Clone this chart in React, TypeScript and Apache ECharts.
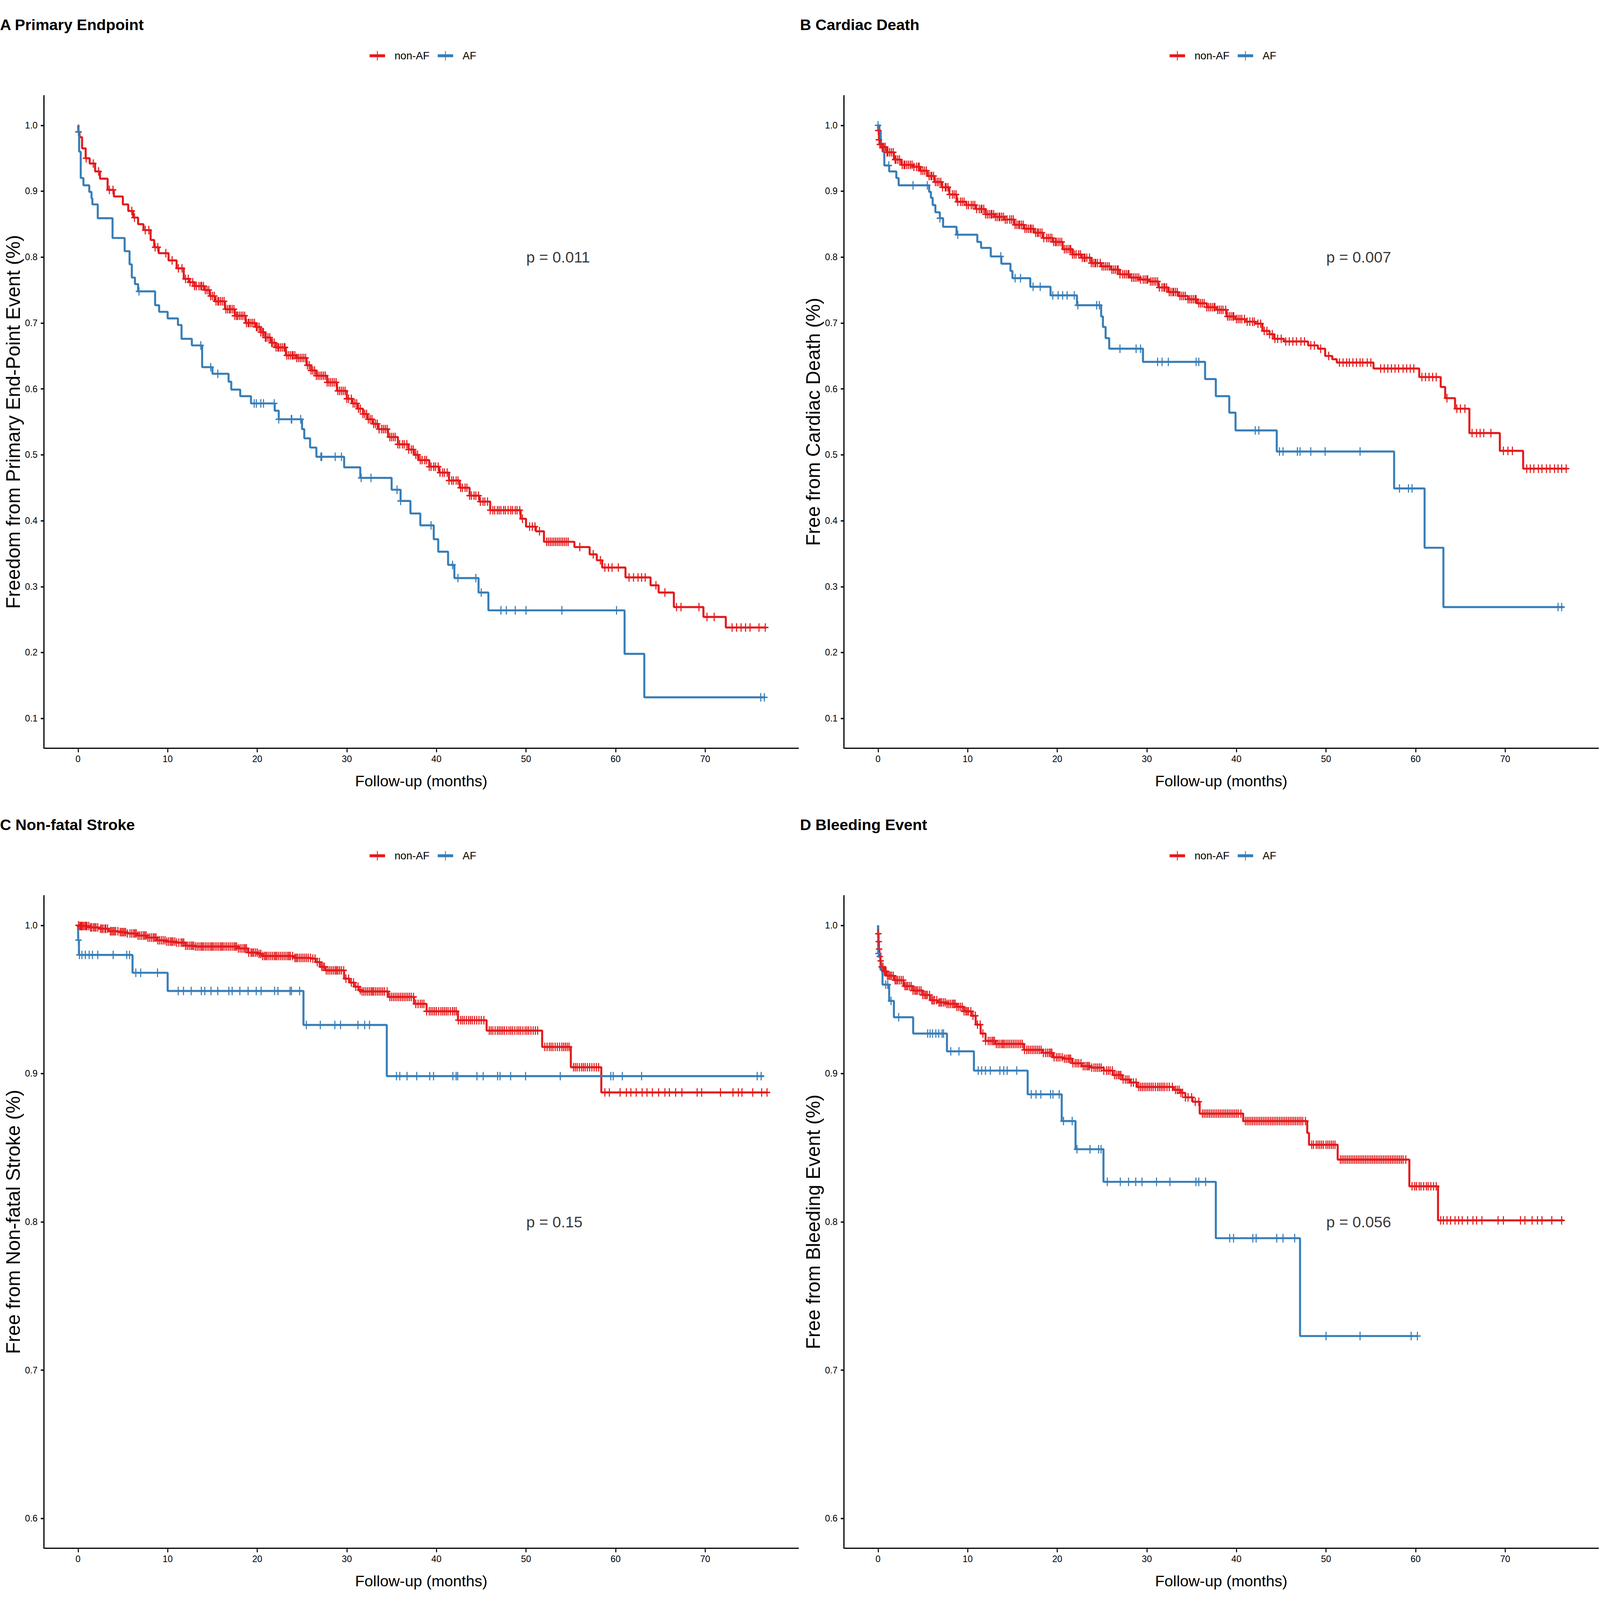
import React, { useEffect, useRef } from "react";
import * as echarts from "echarts";

const RED = "#E41A1C";
const BLUE = "#377EB8";
const FONT = "Liberation Sans, Arial, Helvetica, sans-serif";

// ---------- tick labels ----------
const xTicks = [0, 10, 20, 30, 40, 50, 60, 70];
const yTicksAB = [0.1, 0.2, 0.3, 0.4, 0.5, 0.6, 0.7, 0.8, 0.9, 1.0];
const yTicksCD = [0.6, 0.7, 0.8, 0.9, 1.0];
const legendNames = ["non-AF", "AF"];

// ---------- A: Primary Endpoint ----------
const A_nonAF_steps = [
  [0, 1.0], [0.05, 0.99], [0.17, 0.982], [0.45, 0.965], [0.85, 0.95], [1.3, 0.942], [1.9, 0.93],
  [2.45, 0.919], [3.3, 0.902], [4.0, 0.892], [5.0, 0.88], [5.6, 0.87], [6.15, 0.86], [6.7, 0.85],
  [7.3, 0.841], [8.1, 0.826], [8.5, 0.815], [9.0, 0.806], [10.1, 0.795], [11.0, 0.783], [11.8, 0.767],
  [12.4, 0.762], [13.0, 0.756], [14.1, 0.75], [14.7, 0.741], [15.25, 0.733], [16.4, 0.721], [17.5, 0.711],
  [18.7, 0.7], [19.8, 0.694], [20.4, 0.686], [20.9, 0.678], [21.5, 0.67], [22.1, 0.663], [23.2, 0.651],
  [24.4, 0.647], [25.5, 0.636], [26.0, 0.628], [26.6, 0.62], [27.8, 0.61], [28.9, 0.597], [30.0, 0.585],
  [30.6, 0.578], [31.2, 0.57], [31.8, 0.562], [32.3, 0.554], [32.9, 0.547], [33.5, 0.539], [34.6, 0.527],
  [35.7, 0.516], [36.9, 0.508], [37.5, 0.5], [38.0, 0.492], [39.2, 0.482], [40.3, 0.473], [41.4, 0.461],
  [42.6, 0.45], [43.7, 0.438], [44.8, 0.429], [46.0, 0.416], [49.4, 0.403], [50.0, 0.391], [51.1, 0.384],
  [52.0, 0.368], [55.4, 0.36], [57.1, 0.349], [57.9, 0.34], [58.5, 0.329], [61.1, 0.314], [63.9, 0.302],
  [64.8, 0.291], [66.5, 0.269], [69.8, 0.254], [72.3, 0.238], [76.8, 0.238],
];
const A_nonAF_cens = [
  0.05, 0.9, 1.7, 2.3, 3.5, 3.9, 6.0, 6.3, 7.5, 7.9, 8.6, 8.9, 9.8, 10.5, 11.2, 11.6, 12.0, 12.3, 12.5,
  12.8, 13.0, 13.2, 13.5, 13.7, 13.8, 14.0, 14.2, 14.4, 14.6, 14.8, 15.0, 15.2, 15.4, 15.6, 15.7, 15.9,
  16.1, 16.3, 16.5, 16.7, 16.9, 17.0, 17.2, 17.4, 17.5, 17.7, 17.8, 18.0, 18.2, 18.4, 18.6, 18.8, 19.0,
  19.1, 19.3, 19.5, 19.7, 19.9, 20.0, 20.2, 20.4, 20.6, 20.7, 20.9, 21.0, 21.2, 21.4, 21.6, 21.7, 21.9,
  22.1, 22.3, 22.4, 22.6, 22.8, 23.0, 23.1, 23.3, 23.5, 23.7, 23.9, 24.0, 24.2, 24.4, 24.6, 24.8, 25.0,
  25.2, 25.4, 25.6, 25.8, 26.0, 26.2, 26.4, 26.6, 26.8, 27.0, 27.2, 27.4, 27.6, 27.8, 28.0, 28.2, 28.4,
  28.6, 28.8, 29.0, 29.2, 29.4, 29.6, 29.8, 30.0, 30.2, 30.5, 30.7, 30.9, 31.1, 31.3, 31.5, 31.8, 32.0,
  32.2, 32.4, 32.6, 32.8, 33.0, 33.2, 33.4, 33.6, 33.9, 34.1, 34.3, 34.5, 34.8, 35.0, 35.2, 35.4, 35.7,
  35.9, 36.2, 36.4, 36.7, 36.9, 37.2, 37.4, 37.7, 37.9, 38.2, 38.4, 38.7, 38.9, 39.2, 39.4, 39.7, 39.9,
  40.2, 40.4, 40.7, 40.9, 41.2, 41.4, 41.7, 41.9, 42.2, 42.4, 42.7, 42.9, 43.2, 43.4, 43.7, 43.9, 44.2,
  44.4, 44.7, 44.9, 45.2, 45.4, 45.7, 46.0, 46.3, 46.5, 46.8, 47.0, 47.2, 47.5, 47.7, 48.0, 48.3, 48.5,
  48.8, 49.0, 49.3, 49.6, 50.4, 50.7, 51.0, 51.5, 52.3, 52.5, 52.7, 52.9, 53.1, 53.3, 53.5, 53.7, 53.9,
  54.1, 54.3, 54.5, 54.7, 56.0, 57.5, 58.3, 58.8, 59.2, 59.6, 60.3, 61.5, 62.0, 62.5, 62.9, 63.3, 64.5,
  65.5, 66.8, 67.3, 69.3, 70.2, 71.0, 73.0, 73.5, 74.0, 74.5, 75.0, 76.0, 76.7,
];
const A_AF_steps = [
  [0, 1.0], [0.03, 0.99], [0.12, 0.96], [0.3, 0.92], [0.6, 0.909], [1.25, 0.899], [1.5, 0.889],
  [1.6, 0.88], [2.2, 0.859], [3.85, 0.829], [5.2, 0.809], [5.75, 0.789], [6.0, 0.769], [6.35, 0.759],
  [6.7, 0.748], [8.6, 0.727], [9.05, 0.717], [10.0, 0.707], [11.15, 0.697], [11.55, 0.676], [12.7, 0.666],
  [13.85, 0.633], [15.0, 0.623], [16.8, 0.611], [17.1, 0.599], [18.1, 0.589], [19.3, 0.578], [21.95, 0.567],
  [22.4, 0.554], [25.0, 0.539], [25.25, 0.525], [25.9, 0.511], [26.6, 0.497], [29.7, 0.481], [31.5, 0.465],
  [35.0, 0.447], [36.0, 0.43], [37.1, 0.411], [38.2, 0.393], [39.7, 0.372], [40.2, 0.353], [41.3, 0.333],
  [42.0, 0.313], [44.7, 0.291], [45.8, 0.264], [61.0, 0.198], [63.2, 0.132], [76.7, 0.132],
];
const A_AF_cens = [
  0.05, 6.8, 13.7, 14.8, 15.6, 19.66, 19.9, 20.4, 20.7, 21.9, 22.4, 23.8, 23.85, 24.85, 27.1, 27.2, 28.7,
  29.4, 31.6, 32.7, 35.6, 36.0, 39.4, 41.8, 42.4, 44.4, 45.0, 47.2, 47.8, 48.8, 50.0, 54.0, 60.1, 76.2, 76.6,
];

// ---------- B: Cardiac Death ----------
const B_nonAF_steps = [
  [0, 1.0], [0.02, 0.992], [0.1, 0.978], [0.2, 0.971], [0.43, 0.967], [0.97, 0.959], [1.77, 0.948],
  [2.6, 0.94], [3.9, 0.937], [4.7, 0.931], [5.5, 0.923], [6.3, 0.914], [7.15, 0.906], [7.96, 0.895],
  [8.76, 0.884], [9.84, 0.879], [10.9, 0.873], [12.0, 0.865], [13.06, 0.861], [14.1, 0.857], [15.2, 0.849],
  [16.3, 0.843], [17.4, 0.837], [18.4, 0.829], [19.5, 0.823], [20.6, 0.812], [21.7, 0.804], [22.7, 0.799],
  [23.8, 0.791], [24.9, 0.786], [26.0, 0.781], [27.0, 0.774], [28.1, 0.769], [29.2, 0.766], [30.3, 0.763],
  [31.3, 0.754], [32.4, 0.747], [33.5, 0.741], [34.6, 0.736], [35.6, 0.73], [36.7, 0.724], [37.8, 0.72],
  [38.9, 0.71], [39.9, 0.706], [41.0, 0.702], [42.1, 0.699], [42.9, 0.688], [43.7, 0.683], [44.2, 0.676],
  [45.3, 0.672], [48.0, 0.666], [49.1, 0.661], [49.9, 0.65], [50.7, 0.645], [51.2, 0.64], [55.3, 0.631],
  [60.4, 0.618], [62.8, 0.603], [63.3, 0.586], [64.4, 0.57], [66.0, 0.533], [69.4, 0.506], [72.0, 0.479],
  [76.9, 0.479],
];
const B_nonAF_cens = [
  0.02, 0.1, 0.2, 0.35, 0.5, 0.65, 0.8, 1.0, 1.1, 1.3, 1.5, 1.7, 1.9, 2.0, 2.2, 2.4, 2.7, 2.9, 3.0, 3.2,
  3.4, 3.6, 3.8, 4.0, 4.3, 4.5, 4.6, 4.8, 5.0, 5.2, 5.4, 5.7, 5.9, 6.0, 6.2, 6.4, 6.6, 6.8, 7.0, 7.2, 7.5,
  7.6, 7.8, 8.0, 8.3, 8.5, 8.7, 8.9, 9.2, 9.4, 9.6, 9.9, 10.1, 10.4, 10.6, 10.8, 11.0, 11.3, 11.5, 11.6,
  11.8, 12.0, 12.2, 12.4, 12.6, 12.7, 12.9, 13.1, 13.3, 13.5, 13.6, 13.8, 14.0, 14.2, 14.4, 14.7, 14.9,
  15.1, 15.3, 15.5, 15.7, 15.8, 16.0, 16.2, 16.4, 16.6, 16.8, 17.0, 17.1, 17.3, 17.6, 17.8, 17.9, 18.1,
  18.3, 18.5, 18.8, 19.0, 19.2, 19.4, 19.6, 19.8, 19.9, 20.1, 20.3, 20.5, 20.8, 21.0, 21.2, 21.4, 21.5,
  21.7, 21.9, 22.1, 22.4, 22.6, 22.8, 23.0, 23.1, 23.3, 23.6, 23.8, 24.0, 24.2, 24.3, 24.5, 24.8, 25.0,
  25.2, 25.4, 25.6, 25.8, 26.1, 26.3, 26.5, 26.7, 26.8, 27.0, 27.3, 27.5, 27.7, 27.9, 28.0, 28.3, 28.5,
  28.7, 28.9, 29.1, 29.3, 29.6, 29.8, 30.0, 30.1, 30.4, 30.6, 30.8, 31.0, 31.2, 31.4, 31.7, 31.9, 32.0,
  32.2, 32.5, 32.7, 32.9, 33.0, 33.2, 33.4, 33.7, 33.9, 34.1, 34.3, 34.6, 34.8, 35.0, 35.2, 35.4, 35.5,
  35.8, 36.0, 36.2, 36.4, 36.7, 36.9, 37.1, 37.3, 37.5, 37.6, 37.9, 38.1, 38.3, 38.5, 38.8, 39.0, 39.2,
  39.4, 39.6, 39.7, 40.0, 40.2, 40.4, 40.6, 40.9, 41.2, 41.5, 41.8, 42.0, 42.4, 42.7, 43.1, 43.4, 43.7,
  44.0, 44.3, 44.6, 45.0, 45.5, 45.9, 46.3, 46.7, 47.2, 47.6, 48.3, 48.7, 49.4, 50.3, 51.5, 51.9, 52.3,
  52.6, 53.0, 53.4, 53.8, 54.1, 54.6, 55.0, 56.1, 56.5, 56.9, 57.3, 57.7, 58.1, 58.6, 59.0, 59.4, 59.8,
  60.7, 61.1, 61.5, 61.9, 62.3, 63.5, 64.6, 65.0, 65.5, 66.3, 66.8, 67.2, 67.6, 68.4, 69.8, 70.3, 70.8,
  72.4, 72.8, 73.2, 73.7, 74.1, 74.6, 75.0, 75.5, 75.9, 76.3, 76.8,
];
const B_AF_steps = [
  [0, 1.0], [0.15, 0.992], [0.3, 0.972], [0.5, 0.96], [0.7, 0.939], [1.24, 0.93], [2.04, 0.92],
  [2.3, 0.909], [5.7, 0.899], [5.9, 0.89], [6.1, 0.879], [6.4, 0.868], [6.9, 0.859], [7.26, 0.846],
  [8.76, 0.834], [11.08, 0.823], [11.5, 0.814], [12.58, 0.801], [13.76, 0.79], [14.78, 0.779], [15.0, 0.768],
  [16.99, 0.755], [19.25, 0.742], [22.2, 0.727], [24.9, 0.71], [25.1, 0.694], [25.4, 0.677], [25.8, 0.661],
  [29.57, 0.641], [36.5, 0.615], [37.7, 0.589], [39.2, 0.564], [39.9, 0.537], [44.5, 0.505], [57.6, 0.449],
  [61.0, 0.359], [63.1, 0.269], [76.5, 0.269],
];
const B_AF_cens = [
  0, 1.2, 3.9, 5.5, 6.9, 8.9, 13.7, 15.3, 15.9, 17.3, 18.1, 19.5, 20.1, 20.6, 21.1, 21.9, 22.3, 24.4,
  24.7, 27.0, 28.8, 29.3, 31.2, 31.7, 32.4, 35.5, 35.8, 42.1, 42.5, 44.8, 45.2, 46.8, 47.1, 48.3, 49.9,
  53.8, 58.2, 59.2, 59.6, 75.9, 76.3,
];

// ---------- C: Non-fatal Stroke ----------
const C_nonAF_steps = [
  [0, 1.0], [0.16, 0.9995], [1.24, 0.9986], [2.3, 0.9977], [3.4, 0.996], [4.5, 0.9954], [5.5, 0.9945],
  [6.6, 0.9931], [7.7, 0.9917], [8.8, 0.9899], [9.8, 0.989], [10.9, 0.9883], [12.0, 0.9862], [13.1, 0.9857],
  [17.9, 0.9844], [19.0, 0.9816], [20.1, 0.9807], [20.6, 0.9793], [24.1, 0.978], [26.0, 0.9775],
  [26.5, 0.9752], [27.0, 0.972], [27.6, 0.9696], [29.7, 0.964], [30.3, 0.9614], [30.8, 0.9586],
  [31.3, 0.9563], [31.6, 0.9554], [34.6, 0.9517], [37.5, 0.947], [38.9, 0.942], [42.4, 0.936],
  [45.6, 0.929], [51.8, 0.918], [55.0, 0.9043], [58.4, 0.8873], [76.9, 0.8873],
];
const C_nonAF_cens = [
  0.05, 0.2, 0.3, 0.4, 0.5, 0.65, 0.8, 0.9, 1.0, 1.2, 1.4, 1.5, 1.7, 1.85, 2.0, 2.2, 2.5, 2.65, 2.8, 3.0,
  3.1, 3.3, 3.6, 3.75, 3.9, 4.05, 4.2, 4.45, 4.7, 4.85, 5.0, 5.15, 5.3, 5.5, 5.8, 6.0, 6.2, 6.35, 6.5,
  6.7, 6.9, 7.1, 7.3, 7.45, 7.6, 7.8, 8.0, 8.2, 8.4, 8.55, 8.7, 8.9, 9.1, 9.3, 9.5, 9.7, 9.9, 10.1, 10.3,
  10.45, 10.6, 10.8, 11.0, 11.25, 11.5, 11.65, 11.8, 12.0, 12.2, 12.4, 12.6, 12.75, 12.9, 13.1, 13.3,
  13.5, 13.7, 13.85, 14.0, 14.2, 14.4, 14.6, 14.8, 14.95, 15.1, 15.3, 15.5, 15.7, 15.9, 16.05, 16.2,
  16.4, 16.6, 16.8, 17.0, 17.2, 17.4, 17.55, 17.7, 17.9, 18.1, 18.3, 18.5, 18.65, 18.8, 19.05, 19.3,
  19.45, 19.6, 19.8, 20.0, 20.2, 20.4, 20.6, 20.8, 20.95, 21.1, 21.3, 21.5, 21.7, 21.9, 22.05, 22.2,
  22.4, 22.6, 22.8, 23.0, 23.2, 23.4, 23.55, 23.7, 23.95, 24.2, 24.35, 24.5, 24.7, 24.9, 25.1, 25.3,
  25.5, 25.7, 25.95, 26.2, 26.45, 26.7, 26.95, 27.2, 27.35, 27.5, 27.7, 27.9, 28.1, 28.3, 28.5, 28.7,
  28.85, 29.0, 29.2, 29.4, 29.65, 29.9, 30.2, 30.5, 30.75, 31.0, 31.25, 31.5, 31.7, 31.9, 32.1, 32.3,
  32.5, 32.7, 32.85, 33.0, 33.2, 33.4, 33.6, 33.8, 34.0, 34.2, 34.5, 34.8, 35.0, 35.2, 35.4, 35.6, 35.8,
  36.0, 36.2, 36.4, 36.6, 36.8, 37.0, 37.2, 37.45, 37.7, 37.95, 38.2, 38.4, 38.6, 38.9, 39.2, 39.4, 39.6,
  39.8, 40.0, 40.25, 40.5, 40.7, 40.9, 41.1, 41.3, 41.55, 41.8, 42.0, 42.2, 42.45, 42.7, 42.9, 43.1,
  43.35, 43.6, 43.8, 44.0, 44.25, 44.5, 44.75, 45.0, 45.3, 45.9, 46.1, 46.3, 46.55, 46.8, 47.0, 47.2,
  47.4, 47.6, 47.85, 48.1, 48.3, 48.5, 48.75, 49.0, 49.2, 49.4, 49.65, 49.9, 50.1, 50.3, 50.55, 50.8,
  51.05, 51.3, 52.1, 52.35, 52.6, 52.8, 53.0, 53.25, 53.5, 53.75, 54.0, 54.2, 54.4, 54.6, 54.8, 55.3,
  55.5, 55.7, 55.95, 56.2, 56.4, 56.6, 56.85, 57.1, 57.35, 57.6, 57.85, 58.1, 58.8, 59.3, 60.5, 61.2,
  61.7, 62.3, 62.96, 63.5, 64.1, 64.8, 65.5, 66.0, 66.7, 67.4, 69.1, 69.6, 71.7, 73.1, 73.7, 74.1, 75.3,
  76.3, 76.9,
];
const C_AF_steps = [
  [0, 1.0], [0.02, 0.99], [0.1, 0.98], [6.08, 0.968], [10.0, 0.9557], [25.16, 0.9328], [34.46, 0.8983],
  [76.5, 0.8983],
];
const C_AF_cens = [
  0.05, 0.16, 0.43, 0.81, 1.24, 1.61, 2.2, 3.92, 5.43, 5.75, 6.45, 6.99, 8.87, 11.18, 11.77, 12.63, 13.76,
  14.14, 14.84, 15.59, 16.83, 17.2, 18.06, 18.98, 19.89, 20.43, 21.94, 22.31, 23.66, 23.82, 24.73, 25.48,
  27.04, 28.66, 29.3, 31.24, 31.99, 32.53, 35.54, 35.91, 36.72, 37.8, 39.25, 39.68, 41.83, 42.2, 42.37,
  44.52, 45.22, 46.83, 47.1, 48.28, 49.95, 53.82, 59.46, 59.73, 60.75, 62.9, 75.8, 76.24,
];

// ---------- D: Bleeding Event ----------
const D_nonAF_steps = [
  [0, 1.0], [0.02, 0.9943], [0.06, 0.989], [0.1, 0.984], [0.16, 0.979], [0.25, 0.976], [0.32, 0.972],
  [0.6, 0.969], [0.97, 0.966], [1.77, 0.963], [2.85, 0.959], [3.9, 0.956], [5.0, 0.953], [5.8, 0.9495],
  [6.6, 0.948], [7.7, 0.947], [8.8, 0.945], [9.6, 0.942], [10.4, 0.939], [10.9, 0.933], [11.45, 0.927],
  [12.0, 0.922], [13.1, 0.92], [16.3, 0.916], [18.4, 0.914], [19.5, 0.911], [20.6, 0.91], [21.7, 0.907],
  [22.7, 0.905], [23.8, 0.904], [25.2, 0.902], [26.2, 0.899], [27.3, 0.896], [28.1, 0.894], [28.9, 0.891],
  [33.0, 0.889], [33.8, 0.887], [34.3, 0.884], [35.1, 0.881], [35.9, 0.873], [40.75, 0.868], [47.9, 0.86],
  [48.1, 0.852], [51.3, 0.842], [59.3, 0.824], [62.5, 0.801], [76.5, 0.801],
];
const D_nonAF_cens = [
  0.03, 0.08, 0.12, 0.2, 0.3, 0.4, 0.55, 0.7, 0.8, 0.9, 1.05, 1.2, 1.35, 1.5, 1.7, 1.9, 2.05, 2.2, 2.4,
  2.6, 2.8, 3.0, 3.15, 3.3, 3.5, 3.7, 3.9, 4.1, 4.25, 4.4, 4.6, 4.8, 5.0, 5.2, 5.35, 5.5, 5.75, 6.0, 6.15,
  6.3, 6.55, 6.8, 6.95, 7.1, 7.3, 7.5, 7.7, 7.9, 8.1, 8.3, 8.45, 8.6, 8.8, 9.0, 9.2, 9.4, 9.6, 9.8, 9.95,
  10.1, 10.35, 10.6, 10.85, 11.1, 11.4, 11.7, 12.0, 12.3, 12.5, 12.7, 12.85, 13.0, 13.2, 13.4, 13.6,
  13.8, 13.95, 14.1, 14.3, 14.5, 14.7, 14.9, 15.1, 15.3, 15.5, 15.7, 15.9, 16.1, 16.35, 16.6, 16.8, 17.0,
  17.2, 17.4, 17.6, 17.8, 18.0, 18.2, 18.45, 18.7, 18.9, 19.1, 19.25, 19.4, 19.65, 19.9, 20.1, 20.3,
  20.55, 20.8, 21.0, 21.2, 21.35, 21.5, 21.75, 22.0, 22.2, 22.4, 22.65, 22.9, 23.1, 23.3, 23.45, 23.6,
  23.85, 24.1, 24.3, 24.5, 24.7, 24.9, 25.2, 25.5, 25.7, 25.9, 26.15, 26.4, 26.6, 26.8, 26.95, 27.1,
  27.35, 27.6, 27.8, 28.0, 28.25, 28.5, 28.8, 29.1, 29.3, 29.5, 29.7, 29.9, 30.1, 30.3, 30.5, 30.7,
  30.95, 31.2, 31.4, 31.6, 31.8, 32.0, 32.25, 32.5, 32.85, 33.2, 33.4, 33.6, 33.8, 34.0, 34.3, 34.6,
  35.0, 35.4, 35.8, 36.2, 36.4, 36.6, 36.8, 37.0, 37.2, 37.4, 37.6, 37.8, 38.0, 38.2, 38.4, 38.6, 38.8,
  39.0, 39.2, 39.4, 39.6, 39.8, 40.0, 40.2, 40.5, 41.0, 41.2, 41.4, 41.6, 41.8, 42.0, 42.2, 42.4, 42.6,
  42.8, 43.0, 43.2, 43.4, 43.6, 43.8, 44.0, 44.2, 44.4, 44.6, 44.8, 45.0, 45.2, 45.4, 45.6, 45.8, 46.0,
  46.2, 46.4, 46.6, 46.8, 47.0, 47.2, 47.4, 47.7, 48.4, 48.6, 48.9, 49.1, 49.3, 49.5, 49.7, 50.0, 50.2,
  50.4, 50.6, 50.8, 51.0, 51.6, 51.8, 52.0, 52.2, 52.4, 52.6, 52.8, 53.0, 53.2, 53.4, 53.6, 53.8, 54.0,
  54.2, 54.4, 54.6, 54.8, 55.0, 55.2, 55.4, 55.6, 55.8, 56.0, 56.2, 56.4, 56.6, 56.8, 57.0, 57.2, 57.4,
  57.6, 57.8, 58.0, 58.2, 58.4, 58.6, 58.9, 59.6, 59.9, 60.1, 60.4, 60.6, 60.9, 61.2, 61.4, 61.7, 62.0,
  62.3, 62.8, 63.1, 63.5, 63.9, 64.4, 64.8, 65.2, 65.8, 66.4, 66.8, 67.4, 69.2, 69.8, 71.7, 72.2, 73.0,
  73.6, 74.1, 75.2, 76.3,
];
const D_AF_steps = [
  [0, 1.0], [0.02, 0.981], [0.27, 0.97], [0.5, 0.96], [1.24, 0.949], [1.77, 0.938], [3.92, 0.927],
  [7.69, 0.915], [10.7, 0.902], [16.7, 0.886], [20.5, 0.868], [22.04, 0.849], [25.16, 0.827],
  [37.7, 0.789], [47.1, 0.723], [60.2, 0.723],
];
const D_AF_cens = [
  0.05, 0.86, 1.08, 1.45, 2.3, 5.54, 5.81, 6.08, 6.45, 6.77, 7.15, 7.31, 8.12, 9.03, 11.18, 11.56, 11.99,
  12.53, 13.6, 14.03, 14.41, 15.48, 17.1, 17.63, 18.17, 19.25, 19.52, 20.22, 20.7, 21.67, 22.2, 23.66,
  24.62, 24.89, 25.59, 27.04, 27.96, 28.76, 29.46, 31.08, 32.58, 35.48, 35.8, 36.56, 39.25, 39.68, 41.83,
  42.2, 44.5, 45.2, 46.5, 50.0, 53.8, 59.5, 60.2,
];

// ---------- panel texts ----------
const panelTitles = ["A Primary Endpoint", "B Cardiac Death", "C Non-fatal Stroke", "D Bleeding Event"];
const yTitles = [
  "Freedom from Primary End-Point Event (%)",
  "Free from Cardiac Death (%)",
  "Free from Non-fatal Stroke (%)",
  "Free from Bleeding Event (%)",
];
const pValues = ["p = 0.011", "p = 0.007", "p = 0.15", "p = 0.056"];
const pCoord = [50, 0.8];
const xTitle = "Follow-up (months)";

const panels = [
  { red: A_nonAF_steps, redC: A_nonAF_cens, blue: A_AF_steps, blueC: A_AF_cens, yt: yTicksAB, ymin: 0.055, ymax: 1.045, px: 0, py: 0 },
  { red: B_nonAF_steps, redC: B_nonAF_cens, blue: B_AF_steps, blueC: B_AF_cens, yt: yTicksAB, ymin: 0.055, ymax: 1.045, px: 3000, py: 0 },
  { red: C_nonAF_steps, redC: C_nonAF_cens, blue: C_AF_steps, blueC: C_AF_cens, yt: yTicksCD, ymin: 0.58, ymax: 1.02, px: 0, py: 2250 },
  { red: D_nonAF_steps, redC: D_nonAF_cens, blue: D_AF_steps, blueC: D_AF_cens, yt: yTicksCD, ymin: 0.58, ymax: 1.02, px: 3000, py: 2250 },
];

// survival value of a step function at time t (value of the last step at or before t)
function stepValue(steps: number[][], t: number): number {
  let s = steps[0][1];
  for (const [tt, v] of steps) {
    if (tt <= t) s = v;
    else break;
  }
  return s;
}

const PLUS = "path://M-2,-12H2V-2H12V2H2V12H-2V2H-12V-2H-2Z";
const LEGEND_ICON = "path://M0,9.5H58V17.5H0Z M27.5,0H30.5V27H27.5Z";

// design is 6000 x 4500; kx/ky map it onto the real viewport
function buildOption(kx: number, ky: number) {
  const X = (v: number) => v * kx;
  const Y = (v: number) => v * ky;
  const F = (v: number) => v * kx;
  const km = (kx + ky) / 2;
  const yNameFont = 58 * Math.min(ky, kx * 1.25);
  const grid: any[] = [];
  const xAxis: any[] = [];
  const yAxis: any[] = [];
  const series: any[] = [];
  const title: any[] = [];
  const legend: any[] = [];
  panels.forEach((p, i) => {
    grid.push({ left: X(p.px + 165), top: Y(p.py + 269), width: X(2829), height: Y(1835), containLabel: false });
    const axisLine = { show: true, onZero: false, lineStyle: { color: "#000", width: 3.8 * km } };
    xAxis.push({
      gridIndex: i, type: "value", min: -3.8, max: 80.4,
      axisLine,
      axisTick: { show: true, length: Y(12), lineStyle: { color: "#000", width: 3.8 * kx }, customValues: xTicks },
      axisLabel: { customValues: xTicks, fontSize: F(34), color: "#000", margin: Y(31) - F(17), fontFamily: FONT },
      splitLine: { show: false },
      name: xTitle, nameLocation: "middle", nameGap: Y(95) - F(29) - 4 * kx,
      nameTextStyle: { fontSize: F(58), color: "#000", fontFamily: FONT },
    });
    yAxis.push({
      gridIndex: i, type: "value", min: p.ymin, max: p.ymax,
      axisLine,
      axisTick: { show: true, length: X(12), lineStyle: { color: "#000", width: 3.8 * ky }, customValues: p.yt },
      axisLabel: {
        customValues: p.yt, fontSize: F(34), color: "#000", margin: X(24), fontFamily: FONT,
        formatter: (v: number) => v.toFixed(1),
      },
      splitLine: { show: false },
      name: yTitles[i], nameLocation: "middle", nameGap: X(165 - 49) - yNameFont / 2, nameRotate: 90,
      nameTextStyle: { fontSize: yNameFont, color: "#000", fontFamily: FONT },
    });
    series.push({
      name: "non-AF", type: "line", step: "end", xAxisIndex: i, yAxisIndex: i,
      data: p.red, symbol: "none", showSymbol: false,
      lineStyle: { color: RED, width: 6.5 * km }, itemStyle: { color: RED }, z: 3,
    });
    series.push({
      name: "AF", type: "line", step: "end", xAxisIndex: i, yAxisIndex: i,
      data: p.blue, symbol: "none", showSymbol: false,
      lineStyle: { color: BLUE, width: 6.5 * km }, itemStyle: { color: BLUE }, z: 4,
    });
    series.push({
      name: "non-AF censored", type: "scatter", xAxisIndex: i, yAxisIndex: i,
      data: p.redC.map((t) => [t, stepValue(p.red, t)]),
      symbol: PLUS, symbolSize: [X(24), Y(24)], itemStyle: { color: RED, opacity: 1 }, z: 5,
    });
    series.push({
      name: "AF censored", type: "scatter", xAxisIndex: i, yAxisIndex: i,
      data: p.blueC.map((t) => [t, stepValue(p.blue, t)]),
      symbol: PLUS, symbolSize: [X(24), Y(24)], itemStyle: { color: BLUE, opacity: 1 }, z: 6,
    });
    series.push({
      name: "p", type: "scatter", xAxisIndex: i, yAxisIndex: i,
      data: [pCoord], symbolSize: 1, itemStyle: { color: "rgba(0,0,0,0)" },
      label: {
        show: true, position: "right", distance: 0, formatter: pValues[i],
        fontSize: F(58), color: "#000", fontFamily: FONT,
      },
      z: 7,
    });
    title.push({
      text: panelTitles[i], left: X(p.px), top: Y(p.py + 69) - F(29), padding: 0,
      textStyle: { fontSize: F(58), fontWeight: "bold", color: "#000", fontFamily: FONT },
    });
    const legH = Math.max(Y(27), F(40));
    legend.push({
      data: legendNames, left: X(p.px + 1386), top: Y(p.py + 157) - legH / 2, orient: "horizontal",
      itemWidth: X(58), itemHeight: Y(27), itemGap: X(31), icon: LEGEND_ICON, padding: 0,
      symbolKeepAspect: false, selectedMode: false,
      textStyle: { fontSize: F(40), color: "#000", fontFamily: FONT, padding: [0, 0, 0, X(28)] },
    });
  });
  return {
    animation: false,
    backgroundColor: "#fff",
    textStyle: { fontFamily: FONT },
    title, legend, grid, xAxis, yAxis, series,
  };
}

export default function App() {
  const ref = useRef<HTMLDivElement>(null);
  const W = Math.min(6000, window.innerWidth || 6000);
  const H = Math.min(4500, window.innerHeight || 4500);
  useEffect(() => {
    document.body.style.margin = "0";
    document.body.style.overflow = "hidden";
    if (!ref.current) return;
    const chart = echarts.init(ref.current, undefined, { renderer: "svg" });
    chart.setOption(buildOption(W / 6000, H / 4500) as any);
    return () => chart.dispose();
  }, []);
  return <div ref={ref} style={{ width: W, height: H, background: "#fff" }} />;
}
